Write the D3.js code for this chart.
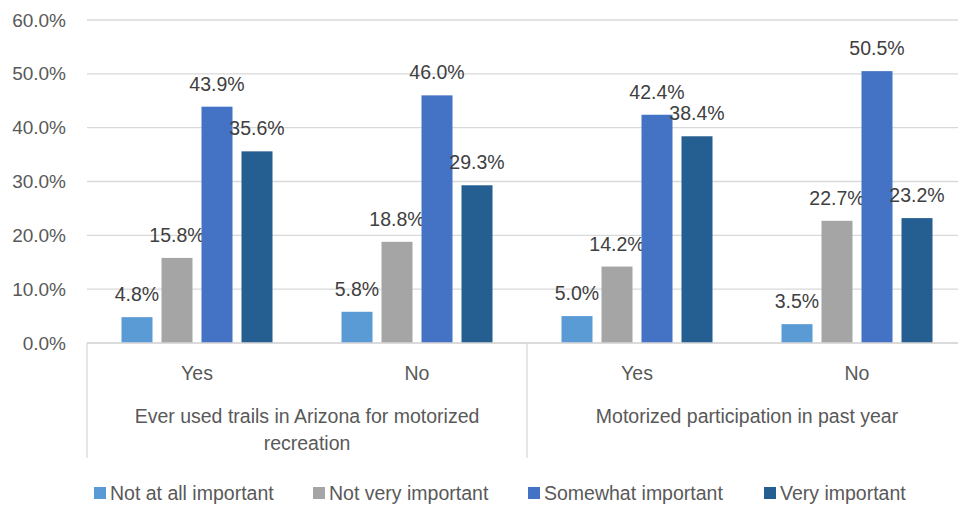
<!DOCTYPE html>
<html>
<head>
<meta charset="utf-8">
<script src="https://cdn.jsdelivr.net/npm/d3@7"></script>
<style>
  body { margin: 0; background: #fff; }
  svg { display: block; font-family: "Liberation Sans Narrow", "Arial Narrow", "Liberation Sans", Arial, sans-serif; }
</style>
</head>
<body>
<svg id="chart" width="958" height="506"></svg>
<script>
const groups = ["Ever used trails in Arizona for motorized recreation", "Motorized participation in past year"];
const groupLines = [["Ever used trails in Arizona for motorized", "recreation"], ["Motorized participation in past year"]];
const categories = ["Yes", "No", "Yes", "No"];
const categoryGroup = [0, 0, 1, 1];
const seriesNames = ["Not at all important", "Not very important", "Somewhat important", "Very important"];
const seriesColors = ["#5b9bd5", "#a5a5a5", "#4472c4", "#255e91"];
const notAtAll = [4.8, 5.8, 5.0, 3.5];
const notVery = [15.8, 18.8, 14.2, 22.7];
const somewhat = [43.9, 46.0, 42.4, 50.5];
const very = [35.6, 29.3, 38.4, 23.2];
const yTicks = [0, 10, 20, 30, 40, 50, 60];

(function () {
const series = [notAtAll, notVery, somewhat, very];
const svg = d3.select("#chart");
const mLeft = 87, mRight = 967, mTop = 20, mBottom = 343;
const clusterW = 151;

const x = d3.scaleBand().domain(d3.range(categories.length)).range([mLeft, mRight]);
const xInner = d3.scaleBand().domain(d3.range(series.length)).range([0, clusterW]).paddingInner(0.225);
const innerOffset = (x.bandwidth() - clusterW) / 2;
const y = d3.scaleLinear().domain([0, 60]).range([mBottom, mTop]);

// gridlines
svg.append("g").selectAll("line").data(yTicks).join("line")
  .attr("x1", mLeft).attr("x2", 958)
  .attr("y1", d => y(d)).attr("y2", d => y(d))
  .attr("stroke", "#d9d9d9").attr("stroke-width", 1.3);

// y axis labels
const yAxis = d3.axisLeft(y).tickValues(yTicks).tickFormat(d => d.toFixed(1) + "%").tickSize(0).tickPadding(21);
const ya = svg.append("g").attr("transform", `translate(${mLeft},0)`).call(yAxis);
ya.select(".domain").remove();
ya.attr("font-family", null);
ya.selectAll("text").attr("font-size", 19).attr("fill", "#595959");

// bars
series.forEach((vals, si) => {
  svg.append("g").selectAll("rect").data(vals).join("rect")
    .attr("x", (d, i) => x(i) + innerOffset + xInner(si))
    .attr("width", xInner.bandwidth())
    .attr("y", d => y(d))
    .attr("height", d => y(0) - y(d))
    .attr("fill", seriesColors[si]);
  svg.append("g").selectAll("text").data(vals).join("text")
    .attr("x", (d, i) => x(i) + innerOffset + xInner(si) + xInner.bandwidth() / 2)
    .attr("y", d => y(d) - 16)
    .attr("text-anchor", "middle")
    .attr("font-size", 19.5)
    .attr("fill", "#404040")
    .text(d => d.toFixed(1) + "%");
});

// category axis baseline
svg.append("line").attr("x1", mLeft).attr("x2", 958).attr("y1", mBottom).attr("y2", mBottom)
  .attr("stroke", "#d9d9d9").attr("stroke-width", 1.3);

// group dividers
const dividers = [0, 2];
svg.append("g").selectAll("line").data(dividers).join("line")
  .attr("x1", d => x(d)).attr("x2", d => x(d))
  .attr("y1", mBottom).attr("y2", 458)
  .attr("stroke", "#d9d9d9").attr("stroke-width", 1.3);

// category labels
svg.append("g").selectAll("text").data(categories).join("text")
  .attr("x", (d, i) => x(i) + x.bandwidth() / 2)
  .attr("y", 380)
  .attr("text-anchor", "middle")
  .attr("font-size", 19.5)
  .attr("fill", "#595959")
  .text(d => d);

// group labels
groupLines.forEach((lines, gi) => {
  const idx = categoryGroup.map((g, i) => g === gi ? i : -1).filter(i => i >= 0);
  const cx = (x(idx[0]) + x(idx[idx.length - 1]) + x.bandwidth()) / 2;
  const t = svg.append("text").attr("text-anchor", "middle").attr("font-size", 19.5).attr("fill", "#595959");
  lines.forEach((ln, li) => {
    t.append("tspan").attr("x", cx).attr("y", 423 + li * 27).text(ln);
  });
});

// legend
const legendX = [94, 313, 528, 764];
const lg = svg.append("g").selectAll("g").data(seriesNames).join("g")
  .attr("transform", (d, i) => `translate(${legendX[i]},493)`);
lg.append("rect").attr("x", 0).attr("y", -6).attr("width", 12).attr("height", 12)
  .attr("fill", (d, i) => seriesColors[i]);
lg.append("text").attr("x", 16).attr("y", 7).attr("font-size", 19.5).attr("fill", "#595959").text(d => d);
})();
</script>
</body>
</html>
